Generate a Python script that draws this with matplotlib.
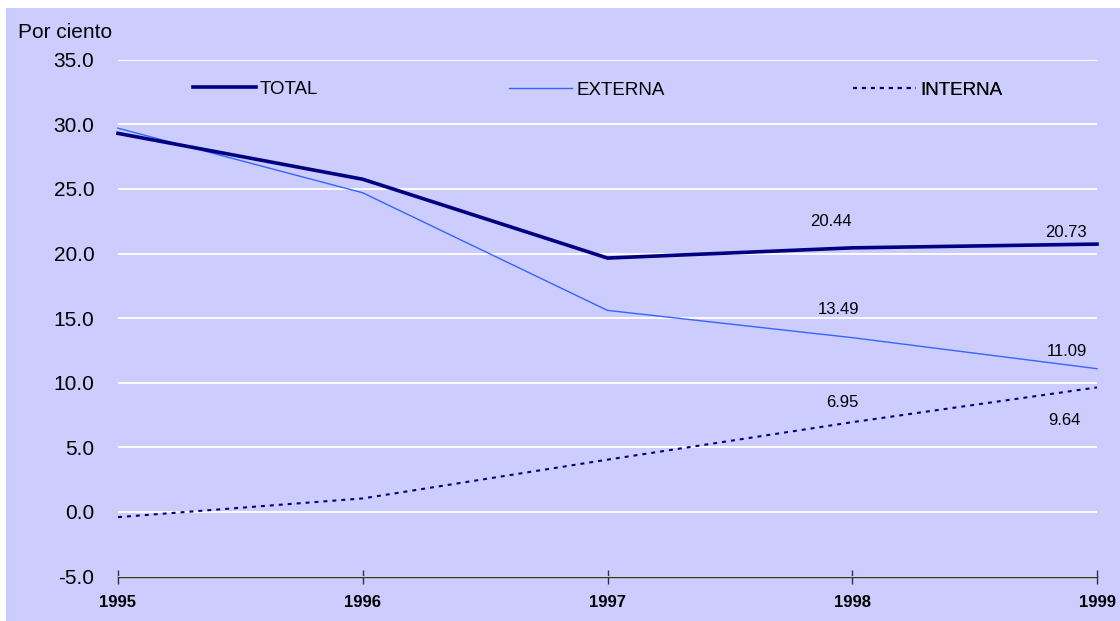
import matplotlib
matplotlib.use("Agg")
import matplotlib.pyplot as plt
from matplotlib.patches import Rectangle

plt.rcParams['font.family'] = ['Liberation Sans', 'DejaVu Sans']
plt.rcParams['axes.unicode_minus'] = False

years = [1995, 1996, 1997, 1998, 1999]
total = [29.3, 25.75, 19.65, 20.44, 20.73]
externa = [29.7, 24.7, 15.6, 13.49, 11.09]
interna = [-0.4, 1.05, 4.05, 6.95, 9.64]
yticks = [-5, 0, 5, 10, 15, 20, 25, 30, 35]
ytick_labels = ['-5.0', '0.0', '5.0', '10.0', '15.0', '20.0', '25.0', '30.0', '35.0']
xtick_labels = ['1995', '1996', '1997', '1998', '1999']
series_names = ['TOTAL', 'EXTERNA', 'INTERNA']

NAVY = '#000080'
BLUE = '#3366FF'
BG = '#CCCCFF'

W, H = 1120, 621
fig = plt.figure(figsize=(W / 100, H / 100), dpi=100, facecolor='white')
fig.patches.append(Rectangle((6 / W, 0), 1 - 6 / W, 1 - 8 / H, transform=fig.transFigure,
                             facecolor=BG, edgecolor='none', zorder=-10))

ax = fig.add_axes([118 / W, (H - 576.6) / H, 979 / W, 516.9 / H])
ax.set_facecolor(BG)
ax.set_xlim(years[0], years[-1])
ax.set_ylim(yticks[0], yticks[-1])
ax.set_yticks(yticks)
ax.set_yticklabels(ytick_labels, fontsize=15)
ax.set_xticks(years)
ax.set_xticklabels(xtick_labels, fontsize=12, fontweight='bold')
ax.yaxis.grid(True, color='white', lw=1.3)
ax.set_axisbelow(True)
for s in ['top', 'left', 'right']:
    ax.spines[s].set_visible(False)
ax.spines['bottom'].set_color('#333333')
ax.spines['bottom'].set_linewidth(1.0)
ax.tick_params(axis='y', length=0, pad=17)
ax.tick_params(axis='x', direction='inout', length=10, width=1.0, color='#333333', pad=8)

l_tot, = ax.plot(years, total, color=NAVY, lw=2.6, solid_joinstyle='miter', clip_on=False, zorder=4)
l_ext, = ax.plot(years, externa, color=BLUE, lw=1.0, clip_on=False, zorder=3)
l_int, = ax.plot(years, interna, color=NAVY, lw=1.5, dashes=(1.9, 2.4), clip_on=False, zorder=3)

# data labels for the last two years
offsets = {
    'TOTAL': [(-21, 26), (-31, 12)],
    'EXTERNA': [(-14, 28), (-30, 17)],
    'INTERNA': [(-10, 20), (-33, -33)],
}
for name, vals in zip(series_names, [total, externa, interna]):
    for (dx, dy), x, v in zip(offsets[name], years[-2:], vals[-2:]):
        ax.annotate(f'{v:.2f}', (x, v), xytext=(dx, dy), textcoords='offset pixels',
                    ha='center', va='center', fontsize=12, color='black')

# legend: three separate entries
leg_pos = [(193, 89), (509, 90), (853, 90)]
for line, name, (px, py) in zip([l_tot, l_ext, l_int], series_names, leg_pos):
    lg = ax.legend([line], [name], loc='center left', bbox_to_anchor=(px / W, 1 - py / H),
                   bbox_transform=fig.transFigure, frameon=False, fontsize=13.5,
                   handlelength=3.36, handletextpad=0.22, borderpad=0, borderaxespad=0)
    ax.add_artist(lg)

fig.text(18 / W, 1 - 33 / H, 'Por ciento', ha='left', va='center', fontsize=15)

fig.savefig('out.png', dpi=100, facecolor=fig.get_facecolor())
